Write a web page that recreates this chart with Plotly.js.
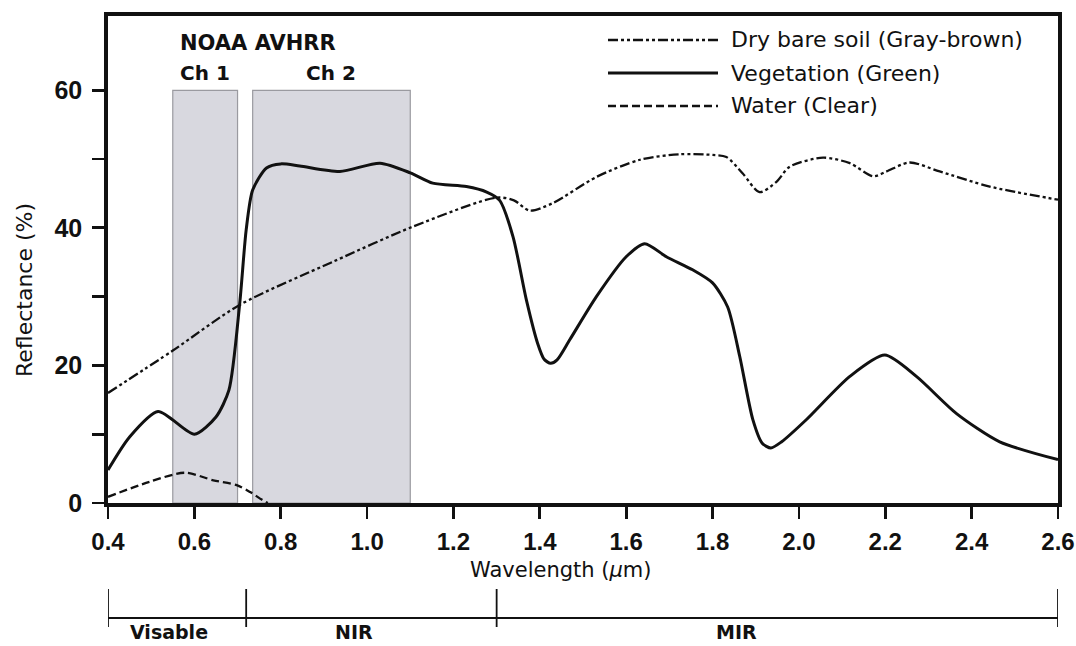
<!DOCTYPE html>
<html>
<head>
<meta charset="utf-8">
<script src="https://cdn.plot.ly/plotly-3.0.1.min.js"></script>
<style>html,body{margin:0;padding:0;background:#fff;}#chart{width:1076px;height:646px;}</style>
</head>
<body>
<div id="chart"></div>
<script>
// ---- data ----
const vegX = [0.40,0.45,0.516,0.60,0.65,0.68,0.705,0.72,0.735,0.767,0.80,0.844,0.937,1.03,1.10,1.152,1.23,1.277,1.307,1.338,1.369,1.395,1.41,1.425,1.44,1.47,1.531,1.60,1.643,1.693,1.754,1.80,1.835,1.863,1.893,1.915,1.935,1.96,2.017,2.118,2.199,2.272,2.365,2.465,2.60];
const vegY = [4.8,9.6,13.3,10.0,12.5,16.4,29.0,39.7,45.5,48.7,49.3,49.0,48.2,49.4,48.0,46.5,46.0,45.2,44.0,38.7,29.5,23.2,20.9,20.3,20.8,23.8,30.0,35.8,37.7,35.8,33.9,32.0,28.5,21.3,12.2,8.7,8.0,8.9,12.1,18.4,21.5,18.4,13.0,8.9,6.3];

const soilX = [0.40,0.551,0.705,0.922,1.107,1.30,1.34,1.377,1.43,1.531,1.632,1.724,1.80,1.832,1.870,1.909,1.948,1.979,2.056,2.118,2.172,2.203,2.256,2.326,2.442,2.60];
const soilY = [16.0,22.2,28.8,35.1,40.2,44.4,44.0,42.5,43.6,47.4,49.9,50.7,50.6,50.3,47.9,45.2,46.7,48.9,50.2,49.4,47.5,48.2,49.5,48.2,46.0,44.1];

const waterX = [0.40,0.497,0.578,0.644,0.698,0.729,0.756,0.77];
const waterY = [0.9,3.1,4.4,3.3,2.6,1.6,0.5,0.0];

const seriesNames = ["Dry bare soil (Gray-brown)", "Vegetation (Green)", "Water (Clear)"];
const channelNames = ["Ch 1", "Ch 2"];
const channelStart = [0.55, 0.735];
const channelEnd = [0.70, 1.10];
const channelTop = 60;
const regionNames = ["Visable", "NIR", "MIR"];
const regionBounds = [0.40, 0.72, 1.30, 2.60];
const xTickVals = [0.4,0.6,0.8,1.0,1.2,1.4,1.6,1.8,2.0,2.2,2.4,2.6];
const yTickVals = [0,10,20,30,40,50,60];

// ---- styles ----
const soilDash = "10px,3px,3px,3px,3px,3px";
const waterDash = "8px,4px";
const TXT = "DejaVu Sans, Liberation Sans, Arial, sans-serif";
const TICKF = "Liberation Sans, Arial, sans-serif";

const traces = [
  {x: soilX, y: soilY, mode: "lines", name: seriesNames[0],
   line: {color: "#111", width: 2.3, dash: soilDash, shape: "spline", smoothing: 0.8}},
  {x: vegX, y: vegY, mode: "lines", name: seriesNames[1],
   line: {color: "#111", width: 3, shape: "spline", smoothing: 0.7}},
  {x: waterX, y: waterY, mode: "lines", name: seriesNames[2],
   line: {color: "#111", width: 2.3, dash: waterDash, shape: "spline", smoothing: 0.8}}
];

const shapes = [];
const annotations = [];

// channel bands
channelStart.forEach((s, i) => {
  shapes.push({type: "rect", xref: "x", yref: "y", x0: s, x1: channelEnd[i], y0: 0, y1: channelTop,
    fillcolor: "#d8d8df", line: {color: "#9a9aa0", width: 1.2}, layer: "below"});
  annotations.push({xref: "x", yref: "paper", x: (s + channelEnd[i]) / 2, y: 1 - (73 - 16) / 487,
    text: channelNames[i], showarrow: false, xanchor: "center", yanchor: "middle",
    font: {family: TXT, size: 20, color: "#111", weight: "bold"}});
});
annotations.push({xref: "paper", yref: "paper", x: (258 - 108) / 950, y: 1 - (43 - 16) / 487,
  text: "NOAA AVHRR", showarrow: false, xanchor: "center", yanchor: "middle",
  font: {family: TXT, size: 21, color: "#111", weight: "bold"}});

// custom legend
const legDash = [soilDash, "solid", waterDash];
const legRowY = [40, 73, 106];
legRowY.forEach((py, i) => {
  const yp = 1 - (py - 16) / 487;
  shapes.push({type: "line", xref: "paper", yref: "paper",
    x0: (608 - 108) / 950, x1: (718 - 108) / 950, y0: yp, y1: yp,
    line: {color: "#111", width: i === 1 ? 3 : 2.3, dash: legDash[i]}});
  annotations.push({xref: "paper", yref: "paper", x: (729 - 108) / 950, y: yp,
    text: seriesNames[i], showarrow: false, xanchor: "left", yanchor: "middle",
    font: {family: TXT, size: 22, color: "#111"}});
});

// region bracket below the axis
const bracketY = -(618 - 503) / 487;
const tickTop = -(589 - 503) / 487;
const tickBot = -(627 - 503) / 487;
shapes.push({type: "line", xref: "x", yref: "paper", x0: regionBounds[0], x1: regionBounds[regionBounds.length - 1],
  y0: bracketY, y1: bracketY, line: {color: "#111", width: 1.8}});
regionBounds.forEach(b => {
  shapes.push({type: "line", xref: "x", yref: "paper", x0: b, x1: b, y0: tickTop, y1: tickBot,
    line: {color: "#111", width: 1.8}});
});
const regionLabelX = [169, 354, 736];
regionNames.forEach((n, i) => {
  annotations.push({xref: "paper", yref: "paper", x: (regionLabelX[i] - 108) / 950, y: -(632 - 503) / 487,
    text: n, showarrow: false, xanchor: "center", yanchor: "middle",
    font: {family: TXT, size: 19, color: "#111", weight: "bold"}});
});

// axis titles
annotations.push({xref: "paper", yref: "paper", x: (560 - 108) / 950, y: -(570 - 503) / 487,
  text: "Wavelength (<i>μ</i>m)", showarrow: false, xanchor: "center", yanchor: "middle",
  font: {family: TXT, size: 21, color: "#111"}});
annotations.push({xref: "paper", yref: "paper", x: -(108 - 24) / 950, y: (503 - 290) / 487,
  text: "Reflectance (%)", showarrow: false, textangle: -90, xanchor: "center", yanchor: "middle",
  font: {family: TXT, size: 22, color: "#111"}});

const layout = {
  width: 1076, height: 646,
  margin: {l: 108, r: 18, t: 16, b: 143},
  paper_bgcolor: "#fff", plot_bgcolor: "#fff",
  showlegend: false,
  xaxis: {range: [0.4, 2.6], showgrid: false, zeroline: false, showline: true, mirror: true,
    linecolor: "#111", linewidth: 3.8, ticks: "outside", ticklen: 12, tickwidth: 2.8, tickcolor: "#111",
    tickvals: xTickVals, ticktext: xTickVals.map(v => v.toFixed(1)), ticklabelstandoff: 2,
    tickfont: {family: TICKF, size: 24, color: "#111", weight: "bold"}},
  yaxis: {range: [0, 70.8], showgrid: false, zeroline: false, showline: true, mirror: true,
    linecolor: "#111", linewidth: 3.8, ticks: "outside", ticklen: 12, tickwidth: 2.8, tickcolor: "#111",
    tickvals: yTickVals, ticktext: yTickVals.map(v => (v % 20 === 0 ? String(v) : "")), ticklabelstandoff: 5,
    tickfont: {family: TICKF, size: 25, color: "#111", weight: "bold"}},
  shapes: shapes,
  annotations: annotations
};

Plotly.newPlot("chart", traces, layout, {displayModeBar: false, staticPlot: true});
</script>
</body>
</html>
